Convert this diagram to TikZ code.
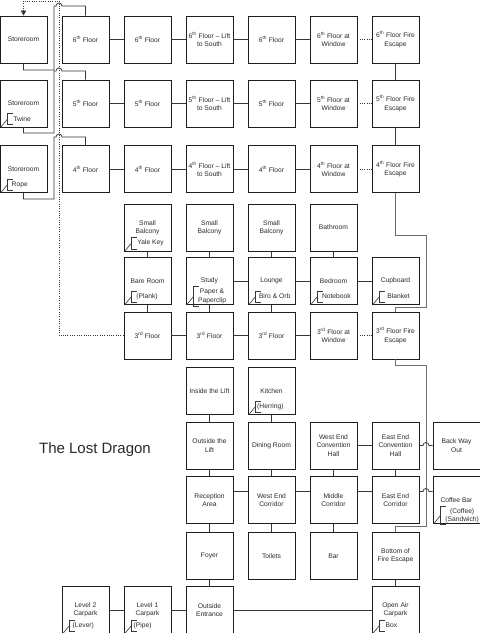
\documentclass[tikz,border=0pt]{standalone}
\usepackage{fontspec}
\setmainfont{Liberation Sans}
\usetikzlibrary{calc,arrows.meta}
\definecolor{boxline}{HTML}{1E1E1E}
\definecolor{connline}{HTML}{383838}
\definecolor{feline}{HTML}{6E6E6E}
\definecolor{txt}{HTML}{2A2A2A}
\newcommand\supth{\textsuperscript{th}}
\newcommand\suprd{\textsuperscript{rd}}
% item annotation: #1 room node, #2 item name, #3 text, #4 text offset, #5 bracket half height
\newcommand\itm[5]{%
  \coordinate (#2c) at ($(#1.south west)+(8,-8.5)$);
  \node[itemtext, anchor=west] (#2) at ($(#2c)+(#4,0)$) {#3};
  \draw[itemline] ($(#2c)+(5,-#5)$) -- ($(#2c)+(0,-#5)$) -- ($(#2c)+(0,#5)$) -- ($(#2c)+(5,#5)$);
  \draw[itemline] ($(#1.south west)+(1,0)$) -- (#2c);
}
\begin{document}
\begin{tikzpicture}[x=1pt,y=-1pt,
  room/.style={draw=boxline, line width=0.95pt, minimum width=47pt, minimum height=47pt,
    inner sep=0pt, align=center, text=txt, font=\fontsize{6.7}{8.3}\selectfont},
  itemtext/.style={inner sep=0pt, align=center, text=txt, font=\fontsize{6.7}{8.3}\selectfont},
  itemline/.style={draw=connline, line width=0.6pt},
  conn/.style={draw=connline, line width=0.75pt},
  ferte/.style={draw=feline, line width=0.75pt},
  dots/.style={draw=connline, line width=0.8pt, dash pattern=on 0.9pt off 1.4pt}]
\useasboundingbox (0,0) rectangle (480,633);
\fill[white] (0,0) rectangle (480,633);

% ---------- rows 6th, 5th, 4th ----------
\node[room] (st6) at (23.5,39.5) {Storeroom};
\node[room] (f6a) at (85.5,39.5) {6\supth{} Floor};
\node[room] (f6b) at (147.5,39.5) {6\supth{} Floor};
\node[room] (f6c) at (209.5,39.5) {6\supth{} Floor -- Lift\\to South};
\node[room] (f6d) at (271.5,39.5) {6\supth{} Floor};
\node[room] (f6e) at (333.5,39.5) {6\supth{} Floor at\\Window};
\node[room] (f6f) at (395.5,39.5) {6\supth{} Floor Fire\\Escape};

\node[room] (st5) at (23.5,103.5) {Storeroom};
\node[room] (f5a) at (85.5,103.5) {5\supth{} Floor};
\node[room] (f5b) at (147.5,103.5) {5\supth{} Floor};
\node[room] (f5c) at (209.5,103.5) {5\supth{} Floor -- Lift\\to South};
\node[room] (f5d) at (271.5,103.5) {5\supth{} Floor};
\node[room] (f5e) at (333.5,103.5) {5\supth{} Floor at\\Window};
\node[room] (f5f) at (395.5,103.5) {5\supth{} Floor Fire\\Escape};

\node[room] (st4) at (23.5,169) {Storeroom};
\node[room] (f4a) at (85.5,169) {4\supth{} Floor};
\node[room] (f4b) at (147.5,169) {4\supth{} Floor};
\node[room] (f4c) at (209.5,169) {4\supth{} Floor -- Lift\\to South};
\node[room] (f4d) at (271.5,169) {4\supth{} Floor};
\node[room] (f4e) at (333.5,169) {4\supth{} Floor at\\Window};
\node[room] (f4f) at (395.5,169) {4\supth{} Floor Fire\\Escape};

% ---------- 3rd floor block ----------
\node[room] (sb1) at (147.5,227.5) {Small\\Balcony};
\node[room] (sb2) at (209.5,227.5) {Small\\Balcony};
\node[room] (sb3) at (271.5,227.5) {Small\\Balcony};
\node[room] (bath) at (333.5,227.5) {Bathroom};

\node[room] (bare) at (147.5,281) {Bare Room};
\node[room] (study) at (209.5,281) {Study};
\node[room] (lounge) at (271.5,281) {Lounge};
\node[room] (bed) at (333.5,281) {Bedroom};
\node[room] (cup) at (395.5,281) {Cupboard};

\node[room] (f3b) at (147.5,335.5) {3\suprd{} Floor};
\node[room] (f3c) at (209.5,335.5) {3\suprd{} Floor};
\node[room] (f3d) at (271.5,335.5) {3\suprd{} Floor};
\node[room] (f3e) at (333.5,335.5) {3\suprd{} Floor at\\Window};
\node[room] (f3f) at (395.5,335.5) {3\suprd{} Floor Fire\\Escape};

% ---------- ground floor ----------
\node[room] (inlift) at (209.5,391) {Inside the Lift};
\node[room] (kitchen) at (271.5,391) {Kitchen};

\node[room] (outlift) at (209.5,445.5) {Outside the\\Lift};
\node[room] (dining) at (271.5,445.5) {Dining Room};
\node[room] (wech) at (333.5,445.5) {West End\\Convention\\Hall};
\node[room] (eech) at (395.5,445.5) {East End\\Convention\\Hall};
\node[room] (back) at (456.5,445.5) {Back Way\\Out};

\node[room] (recep) at (209.5,500) {Reception\\Area};
\node[room] (wecorr) at (271.5,500) {West End\\Corridor};
\node[room] (midcorr) at (333.5,500) {Middle\\Corridor};
\node[room] (eecorr) at (395.5,500) {East End\\Corridor};
\node[room] (coffee) at (456.5,500) {Coffee Bar};

\node[room] (foyer) at (209.5,556) {Foyer};
\node[room] (toilets) at (271.5,556) {Toilets};
\node[room] (bar) at (333.5,556) {Bar};
\node[room] (bottomfe) at (395.5,556) {Bottom of\\Fire Escape};

\node[room] (lvl2) at (85.5,610) {Level 2\\Carpark};
\node[room] (lvl1) at (147.5,610) {Level 1\\Carpark};
\node[room] (outent) at (209.5,610) {Outside\\Entrance};
\node[room] (openair) at (395.5,610) {Open Air\\Carpark};

\node[text=txt, font=\fontsize{15}{17}\selectfont] (title) at (95,450) {The Lost Dragon};

% ---------- items ----------
\itm{st5}{twine}{Twine}{5.7}{5.5}
\itm{st4}{rope}{Rope}{4}{5.5}
\itm{sb1}{yale}{Yale Key}{5.7}{6}
\itm{bare}{plank}{(Plank)}{4.7}{5.5}
\itm{study}{paper}{Paper \&\\Paperclip}{4.4}{10}
\itm{lounge}{biro}{Biro \& Orb}{3.3}{5.5}
\itm{bed}{note}{Notebook}{4.3}{5.5}
\itm{cup}{blanket}{Blanket}{7.7}{5.5}
\itm{kitchen}{herring}{(Herring)}{1.5}{5.5}
\itm{coffee}{coffeeitm}{(Coffee)\\(Sandwich)}{4.7}{9}
\itm{lvl2}{lever}{(Lever)}{3}{5.5}
\itm{lvl1}{pipe}{(Pipe)}{2}{5.5}
\itm{openair}{box}{Box}{6}{5.5}

% ---------- upper floors connectors ----------
\foreach \n in {6,5,4}{
  \draw[conn] (f\n a) -- (f\n b);
  \draw[conn] (f\n b) -- (f\n c);
  \draw[conn] (f\n c) -- (f\n d);
  \draw[conn] (f\n d) -- (f\n e);
  \draw[dots] (f\n e) -- (f\n f);
}
\draw[conn] (f6f) -- (f5f);
\draw[conn] (f5f) -- (f4f);

% storeroom loops with hops over the dotted line
\draw[conn] (st6.south) -- (23.5,70) -- (54,70) -- (54,6) -- (56,6)
  arc[start angle=180, end angle=0, radius=3pt] -- (85.5,6) -- (f6a.north);
\draw[conn] (st5.south) -- (23.5,133) -- (54,133) -- (54,71) -- (56,71)
  arc[start angle=180, end angle=0, radius=3pt] -- (85.5,71) -- (f5a.north);
\draw[conn] (st4.south) -- (23.5,199) -- (54,199) -- (54,137) -- (56,137)
  arc[start angle=180, end angle=0, radius=3pt] -- (85.5,137) -- (f4a.north);

% dotted return path from 3rd floor to top storeroom
\draw[dots, -{Triangle[length=5pt,width=5.5pt]}] (f3b.west) -- (59,335.5) -- (59,1) -- (23.5,1) -- (st6.north);

% fire escape route 4th -> 3rd
\draw[ferte] (f4f.south) -- (395.5,235) -- (426,235) -- (426,307) -- (395.5,307) -- (f3f.north);
% fire escape route 3rd -> bottom
\draw[ferte] (f3f.south) -- (395.5,365) -- (426,365) -- (426,526) -- (395.5,526) -- (bottomfe.north);

% ---------- 3rd floor block connectors ----------
\draw[conn] (sb1) -- (bare);
\draw[conn] (bare) -- (f3b);
\draw[conn] (sb2) -- (study);
\draw[conn] (study) -- (f3c);
\draw[conn] (sb3) -- (lounge);
\draw[conn] (lounge) -- (f3d);
\draw[conn] (bath) -- (bed);
\draw[conn] (study) -- (lounge);
\draw[conn] (lounge) -- (bed);
\draw[conn] (bed) -- (cup);
\draw[conn] (f3b) -- (f3c);
\draw[conn] (f3c) -- (f3d);
\draw[conn] (f3d) -- (f3e);
\draw[dots] (f3e) -- (f3f);

% ---------- ground floor connectors ----------
\draw[conn] (inlift) -- (outlift);
\draw[conn] (outlift) -- (recep);
\draw[conn] (recep) -- (foyer);
\draw[conn] (foyer) -- (outent);
\draw[conn] (kitchen) -- (dining);
\draw[conn] (dining) -- (wecorr);
\draw[conn] (wecorr) -- (toilets);
\draw[conn] (wech) -- (eech);
\draw[conn] (wech) -- (midcorr);
\draw[conn] (eech) -- (eecorr);
\draw[conn] (midcorr) -- (bar);
\draw[conn] (eech.east) -- (423,445.5) arc[start angle=180, end angle=0, radius=3pt] -- (back.west);
\draw[conn] ([yshift=8.5pt]recep.east) -- ([yshift=8.5pt]wecorr.west);
\draw[conn] ([yshift=8.5pt]wecorr.east) -- ([yshift=8.5pt]midcorr.west);
\draw[conn] ([yshift=8.5pt]midcorr.east) -- ([yshift=8.5pt]eecorr.west);
\draw[conn] ([yshift=8.5pt]eecorr.east) -- (423,491.5) arc[start angle=180, end angle=0, radius=3pt] -- ([yshift=8.5pt]coffee.west);
\draw[conn] (outent) -- (lvl1);
\draw[conn] (lvl1) -- (lvl2);
\draw[conn] (outent) -- (openair);
\draw[conn] (bottomfe) -- (openair);
\end{tikzpicture}
\end{document}
